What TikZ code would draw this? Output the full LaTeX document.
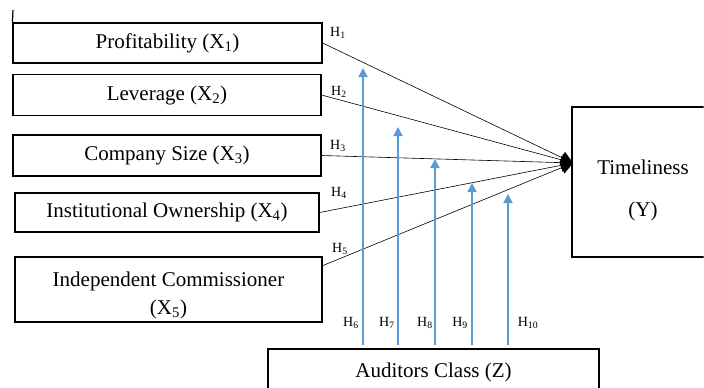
\documentclass[tikz,border=0pt]{standalone}
\usepackage{fontspec}
\setmainfont{Liberation Serif}
\usetikzlibrary{arrows.meta,calc}
\definecolor{modblue}{RGB}{91,155,213}

\begin{document}
\begin{tikzpicture}[x=1pt,y=-1pt,
  var/.style={draw,line width=1.2pt,inner sep=0pt,align=center,
    font=\fontsize{21}{28}\selectfont},
  txt/.style={inner sep=0pt,align=center,font=\fontsize{21}{28}\selectfont},
  hyp/.style={inner sep=0pt,font=\fontsize{14}{16}\selectfont},
  effect/.style={line width=0.6pt,-{Triangle[length=12pt,width=13pt]}},
  mod/.style={draw=modblue,line width=1.8pt,shorten <=3pt,
    -{Triangle[length=9pt,width=9pt]}}]
\useasboundingbox (0,0) rectangle (704,388);
\begin{scope}
\clip (-5,-5) rectangle (703.5,393);
\path node[var,minimum width=309pt,minimum height=40pt] (X1) at (167.5,43) {Profitability (X\textsubscript{1})}
node[var,minimum width=308pt,minimum height=41pt] (X2) at (167,95) {Leverage (X\textsubscript{2})}
node[var,minimum width=308pt,minimum height=41pt] (X3) at (167,155.5) {Company Size (X\textsubscript{3})}
node[var,minimum width=304pt,minimum height=39pt] (X4) at (167,212.5) {Institutional Ownership (X\textsubscript{4})}
node[var,minimum width=307pt,minimum height=65pt] (X5) at (168.5,289.5) {}
node[txt] (x5txt) at (168.5,295) {Independent Commissioner\\(X\textsubscript{5})}
node[var,minimum width=228pt,minimum height=150pt] (Y) at (686,182) {}
node[txt,font=\fontsize{21}{42}\selectfont] (ytxt) at (643,190) {Timeliness\\(Y)}
node[var,minimum width=331pt,minimum height=46pt] (Z) at (433.5,372) {Auditors Class (Z)}
node[hyp] (h1) at (338,33) {H\textsubscript{1}}
node[hyp] (h2) at (339,92) {H\textsubscript{2}}
node[hyp] (h3) at (338,146) {H\textsubscript{3}}
node[hyp] (h4) at (339,193) {H\textsubscript{4}}
node[hyp] (h5) at (340,249) {H\textsubscript{5}}
node[hyp] (h6) at (351,323) {H\textsubscript{6}}
node[hyp] (h7) at (387,323) {H\textsubscript{7}}
node[hyp] (h8) at (425,323) {H\textsubscript{8}}
node[hyp] (h9) at (460,323) {H\textsubscript{9}}
node[hyp] (h10) at (528,323) {H\textsubscript{10}}
;
\coordinate (tick) at (13,10);
\coordinate (hub) at (573,163);
\coordinate (m6) at (363,68);
\coordinate (m7) at (398,127);
\coordinate (m8) at (435,159);
\coordinate (m9) at (472,183);
\coordinate (m10) at (508,194);
\draw[line width=1.2pt] (tick) -- (X1.north west);
\draw[effect] (X1.east) -- (hub);
\draw[effect] (X2.east) -- (hub);
\draw[effect] (X3.east) -- (hub);
\draw[effect] (X4.east) -- (hub);
\draw[effect] ($(X5.north east)!0.14!(X5.south east)$) -- (hub);
\draw[mod] (Z.north -| m6) -- (m6);
\draw[mod] (Z.north -| m7) -- (m7);
\draw[mod] (Z.north -| m8) -- (m8);
\draw[mod] (Z.north -| m9) -- (m9);
\draw[mod] (Z.north -| m10) -- (m10);
\end{scope}
\end{tikzpicture}
\end{document}
